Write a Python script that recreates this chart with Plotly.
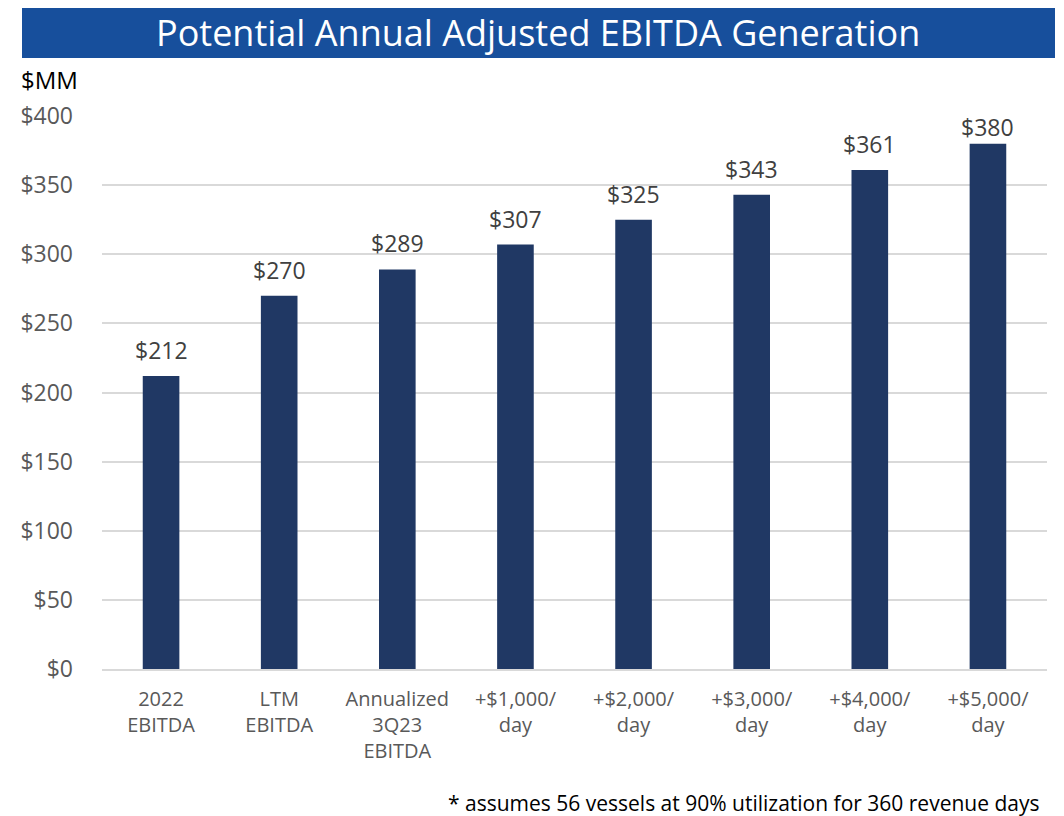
import plotly.graph_objects as go

categories = ["2022<br>EBITDA", "LTM<br>EBITDA", "Annualized<br>3Q23<br>EBITDA",
              "+$1,000/<br>day", "+$2,000/<br>day", "+$3,000/<br>day",
              "+$4,000/<br>day", "+$5,000/<br>day"]
values = [212, 270, 289, 307, 325, 343, 361, 380]
tick_vals = [0, 50, 100, 150, 200, 250, 300, 350, 400]
tick_text = ["$" + str(v) for v in tick_vals]

FONT = "Open Sans"
Y_MAX = 400
# page has an 8px body margin; figure is sized/positioned to compensate
W, H = 1056, 808
L, R, T, B = 94, 17, 108, 147
pw, ph = W - L - R, H - T - B


def px(x):
    return (x - 8 - L) / pw


def py(y):
    return (H - B - (y - 8)) / ph


fig = go.Figure()
fig.add_trace(go.Bar(x=categories, y=values, marker_color="#203864",
                     marker_line_width=0, hoverinfo="skip"))

px_per_unit = ph / Y_MAX
for c, v in zip(categories, values):
    # keep labels from rising above the top of the plot area
    shift = min(8, (Y_MAX - v) * px_per_unit - 29)
    fig.add_annotation(x=c, y=v, text="$" + str(v), showarrow=False,
                       yanchor="bottom", yshift=shift,
                       font=dict(family=FONT, size=23, color="#404040"))

# banner
fig.add_shape(type="rect", xref="paper", yref="paper",
              x0=px(22), x1=px(1055), y0=py(58), y1=py(5),
              fillcolor="#174F9C", line_width=0, layer="below")
fig.add_annotation(xref="paper", yref="paper", x=px(538), y=py(32),
                   text="Potential Annual Adjusted EBITDA Generation",
                   showarrow=False, xanchor="center", yanchor="middle",
                   font=dict(family=FONT, size=36, color="white"))
fig.add_annotation(xref="paper", yref="paper", x=px(19), y=py(79),
                   text="$MM", showarrow=False, xanchor="left", yanchor="middle",
                   font=dict(family=FONT, size=24, color="black"))
fig.add_annotation(xref="paper", yref="paper", x=px(1042), y=py(803),
                   text="* assumes 56 vessels at 90% utilization for 360 revenue days",
                   showarrow=False, xanchor="right", yanchor="middle",
                   font=dict(family=FONT, size=21, color="black"))

fig.update_layout(
    width=W, height=H,
    margin=dict(l=L, r=R, t=T, b=B),
    paper_bgcolor="white", plot_bgcolor="white",
    bargap=0.69, showlegend=False,
    font=dict(family=FONT),
)
fig.update_yaxes(range=[0, Y_MAX], tickvals=tick_vals, ticktext=tick_text,
                 showgrid=True, gridcolor="#D9D9D9", gridwidth=2,
                 zeroline=False, ticks="", ticklabelstandoff=28,
                 tickfont=dict(family=FONT, size=23, color="#595959"))
fig.update_xaxes(showline=True, linecolor="#D9D9D9", linewidth=2,
                 ticks="", ticklabelstandoff=11,
                 tickfont=dict(family=FONT, size=20, color="#595959"))

fig.write_html("out.html")
